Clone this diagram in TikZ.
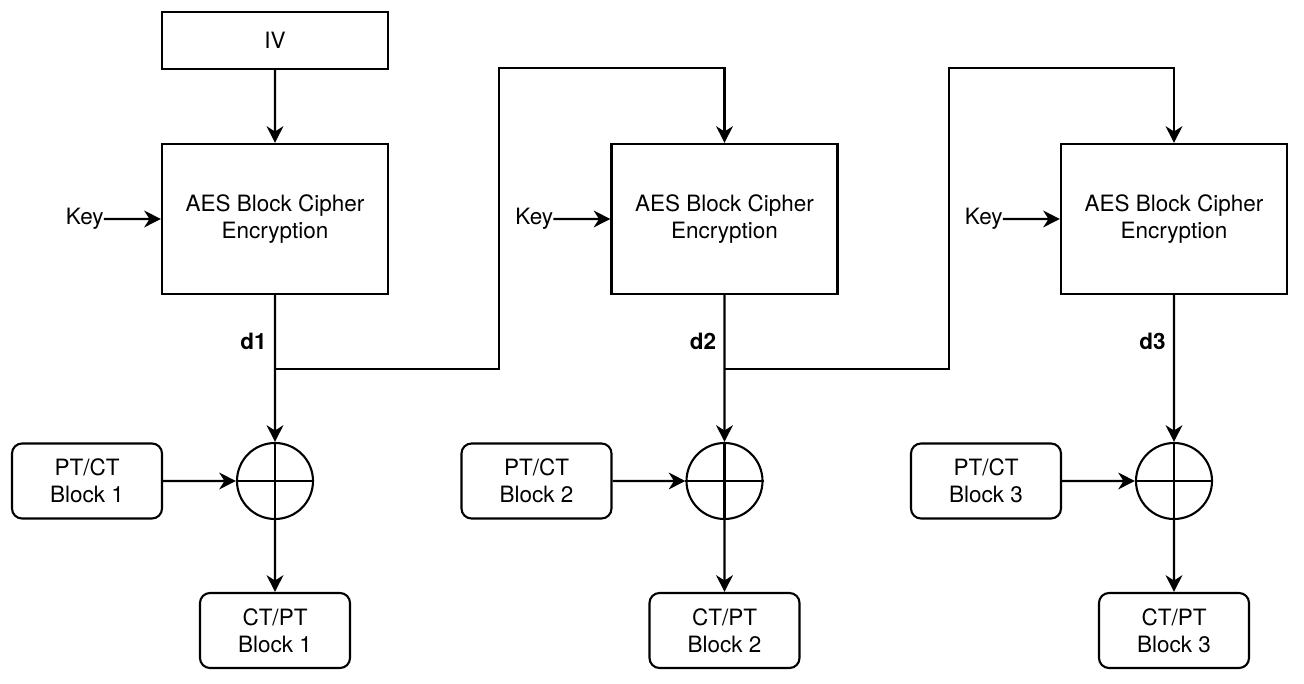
\documentclass[tikz,border=0pt]{standalone}
\usepackage{fontspec}
\setmainfont{TeX Gyre Heros}
\usepackage{tikz}
\usetikzlibrary{arrows.meta,positioning}

\begin{document}
\begin{tikzpicture}[scale=0.2]
\tikzstyle{every node}+=[inner sep=0pt, font=\fontsize{12.8}{15.2}\selectfont]
\tikzstyle{cipher}=[draw=black, line width=1.2pt, rectangle, minimum width=4.52cm, align=center]
\tikzstyle{blk}=[draw=black, line width=1.2pt, rectangle, rounded corners=0.2cm, minimum width=3cm, minimum height=1.5cm, align=center]
\tikzstyle{xorgate}=[draw=black, line width=1.2pt, circle, minimum size=1.52cm]
\tikzstyle{wire}=[black, line width=1.2pt]
\tikzstyle{feed}=[wire, -{Stealth[length=9.5pt, width=9.5pt, inset=3pt]}]
\useasboundingbox (0,0) rectangle (130.4,-68.4);
\node [cipher, minimum height=1.14cm] (iv) at (27.5,-4.05) {IV};
\node [cipher, minimum height=3cm] (aes1) at (27.5,-21.9) {AES Block Cipher\\Encryption};
\node [cipher, minimum height=3cm] (aes2) at (72.45,-21.9) {AES Block Cipher\\Encryption};
\node [cipher, minimum height=3cm] (aes3) at (117.4,-21.9) {AES Block Cipher\\Encryption};
\node [left=1.14cm of aes1] (key1) {Key};
\node [left=1.14cm of aes2] (key2) {Key};
\node [left=1.14cm of aes3] (key3) {Key};
\node (d1) at (25.35,-34.1) {\textbf{d1}};
\node (d2) at (70.3,-34.1) {\textbf{d2}};
\node (d3) at (115.25,-34.1) {\textbf{d3}};
\coordinate (j1) at (27.5,-36.87);
\coordinate (j2) at (72.45,-36.87);
\coordinate (up1) at (49.93,-6.83);
\coordinate (up2) at (94.93,-6.83);
\node [xorgate] (xor1) at (27.5,-48.1) {};
\node [xorgate] (xor2) at (72.45,-48.1) {};
\node [xorgate] (xor3) at (117.4,-48.1) {};
\node [blk] (pt1) at (8.7,-48.1) {PT/CT\\Block 1};
\node [blk] (pt2) at (53.65,-48.1) {PT/CT\\Block 2};
\node [blk] (pt3) at (98.6,-48.1) {PT/CT\\Block 3};
\node [blk] (ct1) at (27.5,-63.05) {CT/PT\\Block 1};
\node [blk] (ct2) at (72.45,-63.05) {CT/PT\\Block 2};
\node [blk] (ct3) at (117.4,-63.05) {CT/PT\\Block 3};
\draw [feed] (iv) -- (aes1);
\draw [feed] (key1) -- (aes1);
\draw [feed] (key2) -- (aes2);
\draw [feed] (key3) -- (aes3);
\draw [feed] (aes1) -- (xor1);
\draw [feed] (aes2) -- (xor2);
\draw [feed] (aes3) -- (xor3);
\draw [feed] (j1) -| (up1) -| (aes2.north);
\draw [feed] (j2) -| (up2) -| (aes3.north);
\draw [feed] (pt1) -- (xor1);
\draw [feed] (pt2) -- (xor2);
\draw [feed] (pt3) -- (xor3);
\draw [wire] (xor1.north) -- (xor1.south) (xor1.west) -- (xor1.east);
\draw [wire] (xor2.north) -- (xor2.south) (xor2.west) -- (xor2.east);
\draw [wire] (xor3.north) -- (xor3.south) (xor3.west) -- (xor3.east);
\draw [feed] (xor1) -- (ct1);
\draw [feed] (xor2) -- (ct2);
\draw [feed] (xor3) -- (ct3);
\end{tikzpicture}
\end{document}
